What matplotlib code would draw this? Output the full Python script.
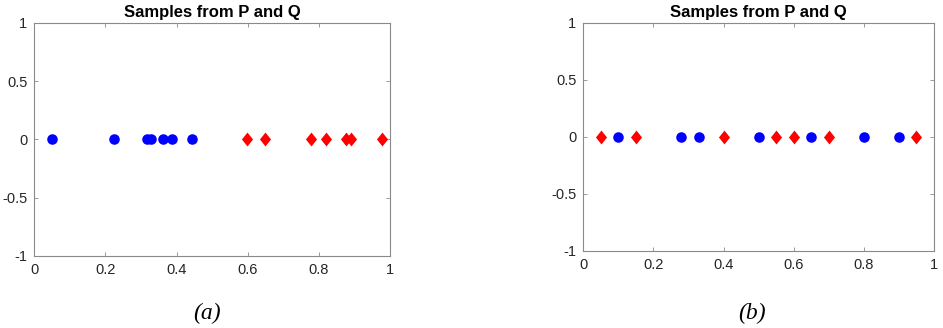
import matplotlib
matplotlib.use("Agg")
import matplotlib.pyplot as plt
from matplotlib.path import Path

# Panel (a)
a_P = [0.049, 0.225, 0.316, 0.328, 0.363, 0.386, 0.444]
a_Q = [0.597, 0.649, 0.778, 0.820, 0.876, 0.889, 0.978]
# Panel (b)
b_P = [0.10, 0.28, 0.33, 0.50, 0.65, 0.80, 0.90]
b_Q = [0.05, 0.15, 0.40, 0.55, 0.60, 0.70, 0.95]

xticks = [0, 0.2, 0.4, 0.6, 0.8, 1]
xticklabels = ["0", "0.2", "0.4", "0.6", "0.8", "1"]
yticks = [-1, -0.5, 0, 0.5, 1]
yticklabels = ["-1", "-0.5", "0", "0.5", "1"]
title = "Samples from P and Q"
captions = ["(a)", "(b)"]

plt.rcParams['font.family'] = ['Liberation Sans', 'DejaVu Sans']

diamond = Path([(0, 1), (0.8, 0), (0, -1), (-0.8, 0), (0, 1)],
               [Path.MOVETO, Path.LINETO, Path.LINETO, Path.LINETO, Path.CLOSEPOLY])

fig = plt.figure(figsize=(9.43, 3.28), dpi=100)
W, H = 943, 328
boxes = [(34.3, 390, 23, 255.7), (583.3, 934, 22.7, 250.7)]
caption_x = [207, 752]

for i, (P, Q) in enumerate([(a_P, a_Q), (b_P, b_Q)]):
    l, r, t, b = boxes[i]
    ax = fig.add_axes([l / W, 1 - b / H, (r - l) / W, (b - t) / H])
    ax.plot(P, [0] * len(P), 'o', color='#0000ff', markersize=7.6, markeredgewidth=0)
    ax.plot(Q, [0] * len(Q), marker=diamond, linestyle='none', color='#ff0000',
            markersize=10.0, markeredgewidth=0)
    ax.set_xlim(0, 1)
    ax.set_ylim(-1, 1)
    ax.set_xticks(xticks)
    ax.set_xticklabels(xticklabels)
    ax.set_yticks(yticks)
    ax.set_yticklabels(yticklabels)
    ax.tick_params(direction='in', top=True, right=True, length=3, width=0.6,
                   color='#8a8a8a', labelcolor='#262626', labelsize=10.5, pad=5)
    for s in ax.spines.values():
        s.set_color('#8a8a8a')
        s.set_linewidth(0.8)
    ax.set_title(title, fontsize=12, fontweight='bold', pad=4)
    fig.text(caption_x[i] / W, 1 - 313 / H, captions[i], ha='center', va='center',
             fontsize=17, fontstyle='italic', family=['Liberation Serif', 'DejaVu Serif'])

fig.savefig('out.png', dpi=100)
